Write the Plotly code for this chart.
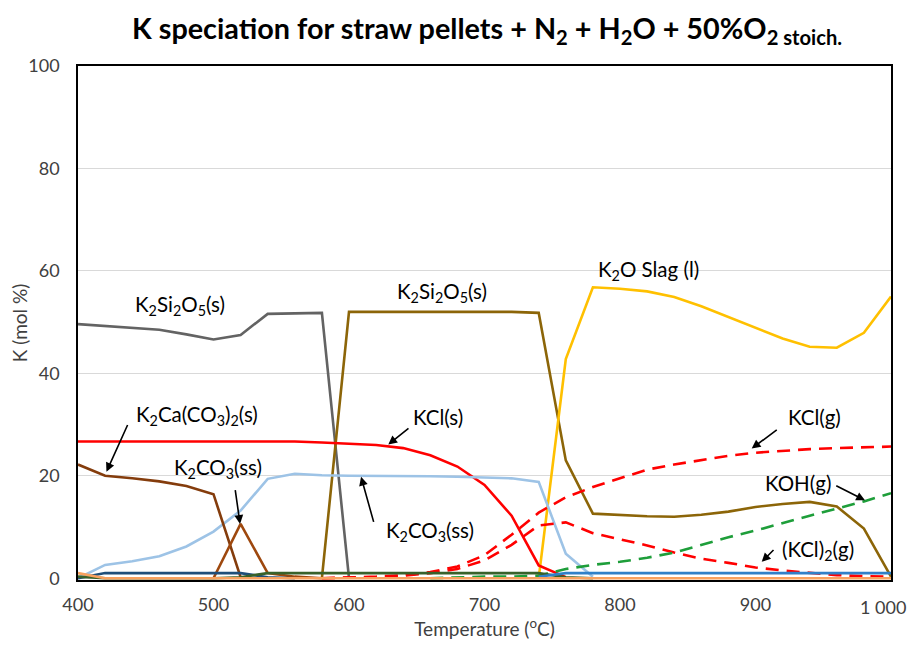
import plotly.graph_objects as go

# ---------------- data ----------------
temperature = [400, 420, 440, 460, 480, 500, 520, 540, 560, 580, 600, 620, 640, 660, 680,
               700, 720, 740, 760, 780, 800, 820, 840, 860, 880, 900, 920, 940, 960, 980, 1000]
N = None

k2si2o5_low = [49.6, 49.2, 48.8, 48.5, 47.6, 46.6, 47.5, 51.6, 51.7, 51.8, 0,
               N, N, N, N, N, N, N, N, N, N, N, N, N, N, N, N, N, N, N, N]
k2si2o5_high = [N, N, N, N, N, N, N, N, N, 0, 52.0, 52.0, 52.0, 52.0, 52.0, 52.0, 52.0, 51.8,
                23.0, 12.6, 12.3, 12.1, 12.0, 12.4, 13.0, 13.9, 14.5, 14.9, 14.0, 9.7, 0.3]
k2o_slag = [N, N, N, N, N, N, N, N, N, N, N, N, N, N, N, N, N, 0,
            42.8, 56.8, 56.5, 56.0, 54.9, 53.1, 51.0, 48.9, 46.8, 45.2, 45.0, 47.9, 55.0]
kcl_s = [26.7, 26.7, 26.7, 26.7, 26.7, 26.7, 26.7, 26.7, 26.7, 26.5, 26.3, 26.0, 25.4, 24.0,
         21.8, 18.2, 12.2, 2.5, 0.2, N, N, N, N, N, N, N, N, N, N, N, N]
k2co3_ss = [0, 2.6, 3.3, 4.3, 6.2, 9.1, 13.2, 19.4, 20.4, 20.1, 20.0, 20.0, 20.0, 19.9, 19.8,
            19.7, 19.5, 18.8, 4.8, 0.3, N, N, N, N, N, N, N, N, N, N, N]
k2ca_co3_2 = [22.2, 20.0, 19.5, 18.9, 18.0, 16.4, 0.2, N, N, N, N, N, N, N, N, N, N, N, N,
              N, N, N, N, N, N, N, N, N, N, N, N]
k2co3_peak = [N, N, N, N, N, 0, 10.6, 1.0, 0.3, 0, N, N, N, N, N, N, N, N, N, N, N, N, N,
              N, N, N, N, N, N, N, N]
kcl_g = [N, N, N, N, N, N, N, N, N, 0, 0.1, 0.3, 0.6, 1.2, 2.3, 4.5, 8.5, 12.8, 15.8, 17.8,
         19.5, 21.2, 22.2, 23.0, 23.9, 24.5, 24.9, 25.2, 25.4, 25.6, 25.7]
kcl2_g = [N, N, N, N, N, N, N, N, N, 0, 0.1, 0.2, 0.5, 1.0, 1.8, 3.5, 6.5, 10.3, 10.9, 8.8,
          7.6, 6.4, 5.0, 3.8, 3.0, 2.1, 1.5, 1.0, 0.6, 0.4, 0.3]
koh_g = [N, N, N, N, N, N, N, N, N, N, N, N, N, 0, 0.2, 0.3, 0.3, 0.5, 1.8, 2.6, 3.2, 4.0,
         5.0, 6.5, 8.0, 9.3, 10.8, 12.2, 13.6, 15.0, 16.6]
minor_navy = [0, 1.0, 1.0, 1.0, 1.0, 1.0, 1.0, 0.2, 0, N, N, N, N, N, N, N, N, N, N, N, N,
              N, N, N, N, N, N, N, N, N, N]
minor_green = [0.3, 0, 0, 0, 0, 0, 0.2, 1.0, 1.0, 1.0, 1.0, 1.0, 1.0, 1.0, 1.0, 1.0, 1.0, 1.0,
               0.2, 0, N, N, N, N, N, N, N, N, N, N, N]
minor_blue = [N, N, N, N, N, N, N, N, N, N, N, N, N, N, N, N, N, 0.3, 1.0, 1.0, 1.0, 1.0,
              1.0, 1.0, 1.0, 1.0, 1.0, 1.0, 1.0, 1.0, 1.0]
minor_orange = [1.0, 0, 0, 0, 0, 0, 0, 0, 0, 0, 0, 0, 0, 0, 0, 0, 0, 0, 0, 0, 0, 0, 0, 0, 0,
                0, 0, 0, 0, 0, 0]

x_tick_vals = [400, 500, 600, 700, 800, 900, 1000]
x_tick_text = ["400", "500", "600", "700", "800", "900", "1 000"]
y_tick_vals = [0, 20, 40, 60, 80, 100]

# ---------------- figure ----------------
FONT = "Lato, 'Open Sans', sans-serif"
TICKFONT = dict(family=FONT, size=18, color="#404040")
fig = go.Figure()

def line(y, color, dash="solid", width=2.6, name=""):
    fig.add_trace(go.Scatter(x=temperature, y=y, mode="lines", name=name,
                             line=dict(color=color, width=width, dash=dash),
                             connectgaps=False, hoverinfo="skip"))

DASH = "13px,8px"
line(k2si2o5_low, "#636363", name="K2Si2O5(s)")
line(k2si2o5_high, "#8C6508", name="K2Si2O5(s) b")
line(k2o_slag, "#FFC000", name="K2O Slag (l)")
line(kcl_s, "#FF0000", name="KCl(s)")
line(k2co3_ss, "#9DC3E6", name="K2CO3(ss)")
line(k2ca_co3_2, "#843C0C", name="K2Ca(CO3)2(s)")
line(k2co3_peak, "#9E480E", name="K2CO3(ss) b")
line(kcl_g, "#FF0000", dash=DASH, name="KCl(g)")
line(kcl2_g, "#FF0000", dash=DASH, name="(KCl)2(g)")
line(koh_g, "#1E9E3A", dash=DASH, name="KOH(g)")
line(minor_navy, "#1F4E79", name="navy")
line(minor_green, "#38612A", name="green")
line(minor_blue, "#2F80C8", name="blue")
line(minor_orange, "#F8A15E", name="orange")

LBL = dict(family=FONT, size=20.5, color="#000000")

texts = [
    ("K<sub>2</sub>Si<sub>2</sub>O<sub>5</sub>(s)", 475.3, 53.2),
    ("K<sub>2</sub>Si<sub>2</sub>O<sub>5</sub>(s)", 668.4, 55.8),
    ("K<sub>2</sub>O Slag (l)", 820.7, 60.0),
    ("K<sub>2</sub>Ca(CO<sub>3</sub>)<sub>2</sub>(s)", 487.6, 31.8),
    ("K<sub>2</sub>CO<sub>3</sub>(ss)", 503.5, 21.4),
    ("KCl(s)", 665.7, 31.5),
    ("K<sub>2</sub>CO<sub>3</sub>(ss)", 659.8, 9.1),
    ("KCl(g)", 943.9, 31.5),
    ("KOH(g)", 931.6, 18.5),
    ("(KCl)<sub>2</sub>(g)", 946.4, 5.5),
]
for t, x, y in texts:
    fig.add_annotation(x=x, y=y, text=t, showarrow=False, font=LBL,
                       xanchor="center", yanchor="middle")

arrows = [
    (437.1, 30.2, 421.0, 20.8),
    (515.9, 17.5, 519.6, 10.6),
    (645.0, 29.5, 629.0, 26.1),
    (618.5, 10.7, 608.9, 19.8),
    (916.8, 29.2, 897.2, 25.3),
    (958.5, 18.2, 980.8, 15.2),
    (914.4, 5.8, 904.6, 3.2),
]
for ax, ay, x, y in arrows:
    fig.add_annotation(x=x, y=y, ax=ax, ay=ay, axref="x", ayref="y", text="",
                       showarrow=True, arrowhead=2, arrowsize=1.1, arrowwidth=1.6,
                       arrowcolor="#000000", standoff=0, startstandoff=0)

# last tick label drawn as an annotation, kept inside the page's right edge
shown_tick_text = x_tick_text[:-1] + [""]
fig.add_annotation(x=x_tick_vals[-1], y=0, xref="x", yref="paper", text=x_tick_text[-1],
                   showarrow=False, xanchor="right", yanchor="middle",
                   xshift=17, yshift=-27, font=TICKFONT)

# page body has an 8px margin: figure is sized so the whole page fits the window
fig.update_layout(
    width=909, height=632,
    margin=dict(l=70, r=26, t=58, b=60),
    paper_bgcolor="white", plot_bgcolor="white",
    showlegend=False,
    title=dict(text="<b>K speciation for straw pellets + N<sub>2</sub> + H<sub>2</sub>O + 50%O<sub>2 stoich.</sub></b>",
               x=0.527, xanchor="center", y=0.967, yanchor="middle",
               font=dict(family=FONT, size=28.8, color="#000000")),
    font=dict(family=FONT),
)
fig.update_xaxes(range=[400, 1000], tickvals=x_tick_vals, ticktext=shown_tick_text,
                 automargin=False,
                 showgrid=False, zeroline=False, showline=True, mirror=True,
                 linecolor="#000000", linewidth=1.5, layer="below traces",
                 ticks="outside", ticklen=8, tickcolor="rgba(0,0,0,0)",
                 tickfont=TICKFONT,
                 title=dict(text="Temperature (<sup>o</sup>C)", standoff=14,
                            font=dict(family=FONT, size=19, color="#404040")))
fig.update_yaxes(range=[-0.35, 100], tickvals=y_tick_vals, automargin=False,
                 showgrid=True, gridcolor="#D9D9D9", gridwidth=1.3, zeroline=False,
                 showline=True, mirror=True, linecolor="#000000", linewidth=1.5,
                 layer="below traces", ticks="outside", ticklen=13,
                 tickcolor="rgba(0,0,0,0)",
                 tickfont=TICKFONT,
                 title=dict(text="K (mol %)", standoff=10,
                            font=dict(family=FONT, size=19, color="#404040")))

fig.write_html("out.html")
